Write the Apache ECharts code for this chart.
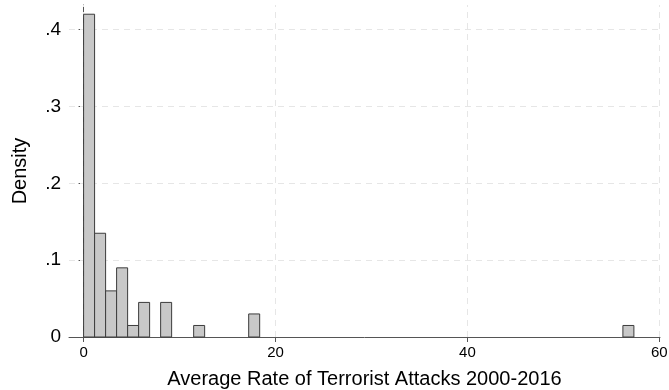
<!DOCTYPE html>
<html>
<head>
<meta charset="utf-8">
<script src="https://cdn.jsdelivr.net/npm/echarts@6/dist/echarts.min.js"></script>
<style>
  html, body { margin: 0; padding: 0; background: #fff; }
  #chart { width: 669px; height: 390px; }
</style>
</head>
<body>
<div id="chart"></div>
<script>
// Histogram of average attack rates (density scale)
const binWidth = 1.147;
const binStarts = [0, 1.147, 2.294, 3.441, 4.588, 5.735, 8.029, 11.47, 17.205, 56.203];
const densities = [0.42, 0.135, 0.06, 0.09, 0.015, 0.045, 0.045, 0.015, 0.03, 0.015];
const xTicks = [0, 20, 40, 60];
const yTicks = [0, 0.1, 0.2, 0.3, 0.4];

const FONT = '"Liberation Sans", Arial, Helvetica, sans-serif';
const gridStyle = { color: '#e6e6e6', width: 1, type: [6, 5] };

const bars = binStarts.map((s, i) => [s, s + binWidth, densities[i]]);

const chart = echarts.init(document.getElementById('chart'), null, { renderer: 'canvas' });
chart.setOption({
  animation: false,
  backgroundColor: '#ffffff',
  grid: { left: 69, right: 9, top: 5, bottom: 53, containLabel: false, outerBoundsMode: 'none' },
  xAxis: {
    type: 'value',
    min: -1.52,
    max: 60.07,
    name: 'Average Rate of Terrorist Attacks 2000-2016',
    nameLocation: 'middle',
    nameGap: 32,
    nameTextStyle: { fontFamily: FONT, fontSize: 20, color: '#000' },
    axisLine: { show: true, onZero: false, lineStyle: { color: '#555', width: 1 } },
    axisTick: { show: true, length: 5, customValues: xTicks, lineStyle: { color: '#555' } },
    axisLabel: { customValues: xTicks, fontFamily: FONT, fontSize: 15, color: '#000', margin: 8,
                 formatter: v => String(v) },
    splitLine: { show: false }
  },
  yAxis: {
    type: 'value',
    min: 0,
    max: 0.432,
    name: 'Density',
    nameLocation: 'middle',
    nameGap: 39,
    nameRotate: 90,
    nameTextStyle: { fontFamily: FONT, fontSize: 20, color: '#000' },
    axisLine: { show: true, lineStyle: { color: '#555', width: 1 } },
    axisTick: { show: true, length: 5, customValues: yTicks, lineStyle: { color: '#555' } },
    axisLabel: { customValues: yTicks, fontFamily: FONT, fontSize: 19, color: '#000', margin: 8,
                 formatter: v => (v === 0 ? '0' : String(+v.toFixed(1)).replace(/^0/, '')) },
    splitLine: { show: false }
  },
  series: [
    {
      type: 'custom',
      data: bars,
      z: 3,
      renderItem: function (params, api) {
        const p0 = api.coord([api.value(0), api.value(2)]);
        const p1 = api.coord([api.value(1), 0]);
        return {
          type: 'rect',
          shape: { x: p0[0], y: p0[1], width: p1[0] - p0[0], height: p1[1] - p0[1] },
          style: { fill: '#c8c8c8', stroke: '#3c3c3c', lineWidth: 1 }
        };
      },
      markLine: {
        silent: true,
        symbol: 'none',
        label: { show: false },
        lineStyle: gridStyle,
        z: 1,
        data: [
          ...yTicks.slice(1).map(v => ({ yAxis: v })),
          ...xTicks.map(v => ({ xAxis: v }))
        ]
      }
    }
  ]
});
</script>
</body>
</html>
